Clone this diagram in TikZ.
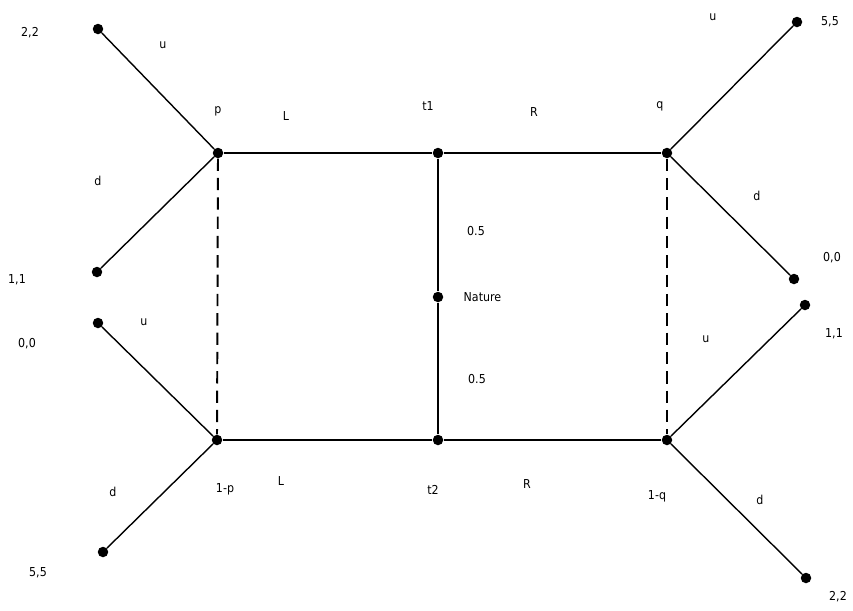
\documentclass[tikz,border=0pt]{standalone}
\usepackage{fontspec}
\setmainfont{DejaVu Sans Condensed}
\usepackage{tikz}
\usetikzlibrary{positioning}

\tikzset{
  dot/.style={circle,fill=black,inner sep=0pt,minimum size=0.21cm},
  lbl/.style={font=\scriptsize,inner sep=1pt},
  branch/.style={line width=0.8pt},
  main/.style={line width=1.1pt},
  info/.style={line width=1.1pt,dash pattern=on 7pt off 4pt},
}

\begin{document}
\begin{tikzpicture}[x=0.02cm,y=-0.02cm]
  \useasboundingbox (0,0) rectangle (853,610);
  % decision nodes
  \node[dot] (p) at (218,153) {};
  \node[dot] (t1) at (438,153) {};
  \node[dot] (q) at (667,153) {};
  \node[dot] (nat) at (438,297) {};
  \node[dot] (np) at (217,440) {};
  \node[dot] (t2) at (438,440) {};
  \node[dot] (nq) at (667,440) {};
  % terminal nodes
  \node[dot] (pu) at (98,29) {};
  \node[dot] (pd) at (97,272) {};
  \node[dot] (npu) at (98,323) {};
  \node[dot] (npd) at (103,552) {};
  \node[dot] (qu) at (797,22) {};
  \node[dot] (qd) at (794,279) {};
  \node[dot] (nqu) at (805,305) {};
  \node[dot] (nqd) at (806,578) {};

  \draw[main] (p) -- (t1) -- (q);
  \draw[main] (np) -- (t2) -- (nq);
  \draw[main] (t1) -- (nat) -- (t2);
  \draw[info] (p) -- (np);
  \draw[info] (q) -- (nq);
  \draw[branch] (p) -- (pu);
  \draw[branch] (p) -- (pd);
  \draw[branch] (np) -- (npu);
  \draw[branch] (np) -- (npd);
  \draw[branch] (q) -- (qu);
  \draw[branch] (q) -- (qd);
  \draw[branch] (nq) -- (nqu);
  \draw[branch] (nq) -- (nqd);

  % labels
  \node[lbl] at (30,33) {2,2};
  \node[lbl] at (163,45) {u};
  \node[lbl] at (218,111) {p};
  \node[lbl] at (286,116) {L};
  \node[lbl] at (98,181) {d};
  \node[lbl] at (17,280) {1,1};
  \node[lbl] at (27,344) {0,0};
  \node[lbl] at (144,322) {u};
  \node[lbl] at (113,492) {d};
  \node[lbl] at (225,489) {1-p};
  \node[lbl] at (281,481) {L};
  \node[lbl] at (38,573) {5,5};
  \node[lbl] at (428,106) {t1};
  \node[lbl] at (534,112) {R};
  \node[lbl] at (476,231) {0.5};
  \node[lbl,right=3.6mm of nat] {Nature};
  \node[lbl] at (477,379) {0.5};
  \node[lbl] at (433,490) {t2};
  \node[lbl] at (527,484) {R};
  \node[lbl] at (660,106) {q};
  \node[lbl] at (713,17) {u};
  \node[lbl] at (830,22) {5,5};
  \node[lbl] at (757,196) {d};
  \node[lbl] at (832,258) {0,0};
  \node[lbl] at (706,339) {u};
  \node[lbl] at (834,334) {1,1};
  \node[lbl] at (657,496) {1-q};
  \node[lbl] at (760,500) {d};
  \node[lbl] at (838,597) {2,2};
\end{tikzpicture}
\end{document}
